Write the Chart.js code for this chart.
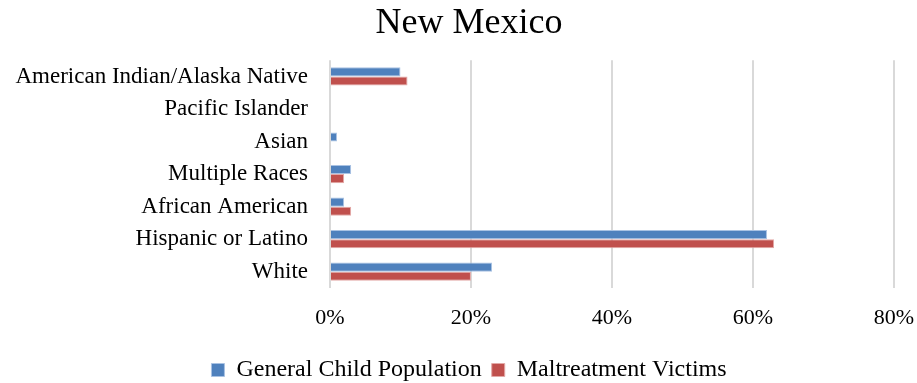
<!DOCTYPE html>
<html>
<head>
<meta charset="utf-8">
<script src="https://cdn.jsdelivr.net/npm/chart.js@4"></script>
<style>
html,body{margin:0;padding:0;background:#fff;}
#wrap{width:917px;height:383px;}
</style>
</head>
<body>
<div id="wrap"><canvas id="c" width="917" height="383"></canvas></div>
<script>
const categories = ["American Indian/Alaska Native","Pacific Islander","Asian","Multiple Races","African American","Hispanic or Latino","White"];
const generalChildPopulation = [10, 0, 1, 3, 2, 62, 23];
const maltreatmentVictims = [11, 0, 0, 2, 3, 63, 20];
const seriesNames = ["General Child Population","Maltreatment Victims"];
const xTicks = [0, 20, 40, 60, 80];

const FONT = "'Liberation Serif', 'DejaVu Serif', serif";

const unclipY = {
  id: 'unclipY',
  afterLayout(chart) { chart.scales.y.left = 0; }
};

new Chart(document.getElementById('c'), {
  type: 'bar',
  data: {
    labels: categories,
    datasets: [
      { label: seriesNames[0], data: generalChildPopulation, backgroundColor: '#4F81BD', borderColor: '#a9c2e3', borderWidth: 1, categoryPercentage: 0.56, barPercentage: 1.0 },
      { label: seriesNames[1], data: maltreatmentVictims, backgroundColor: '#C0504D', borderColor: '#e3a9a7', borderWidth: 1, categoryPercentage: 0.56, barPercentage: 1.0 }
    ]
  },
  plugins: [unclipY],
  options: {
    indexAxis: 'y',
    responsive: false,
    animation: false,
    layout: { padding: { left: 21, right: 0, top: 0, bottom: -9 } },
    plugins: {
      title: {
        display: true,
        text: 'New Mexico',
        color: '#000',
        font: { family: FONT, size: 36, weight: 'normal' },
        padding: { top: 2, bottom: 15 }
      },
      legend: {
        position: 'bottom',
        labels: {
          color: '#000',
          font: { family: FONT, size: 24 },
          boxWidth: 13, boxHeight: 13,
          padding: 10
        }
      },
      tooltip: { enabled: false }
    },
    scales: {
      x: {
        min: 0, max: 80,
        afterBuildTicks: s => { s.ticks = xTicks.map(v => ({ value: v })); },
        ticks: { callback: v => v + '%', color: '#000', font: { family: FONT, size: 22 }, padding: 3 },
        grid: { color: '#d9d9d9', lineWidth: 2, drawTicks: true, tickLength: 14, tickColor: 'rgba(0,0,0,0)' },
        border: { display: false },
        afterFit: s => { s.height = 60; }
      },
      y: {
        ticks: { color: '#000', font: { family: FONT, size: 23 }, padding: 22 },
        grid: { display: false, drawTicks: false },
        border: { display: false },
        afterFit: s => { s.width = 309; }
      }
    }
  }
});
</script>
</body>
</html>
